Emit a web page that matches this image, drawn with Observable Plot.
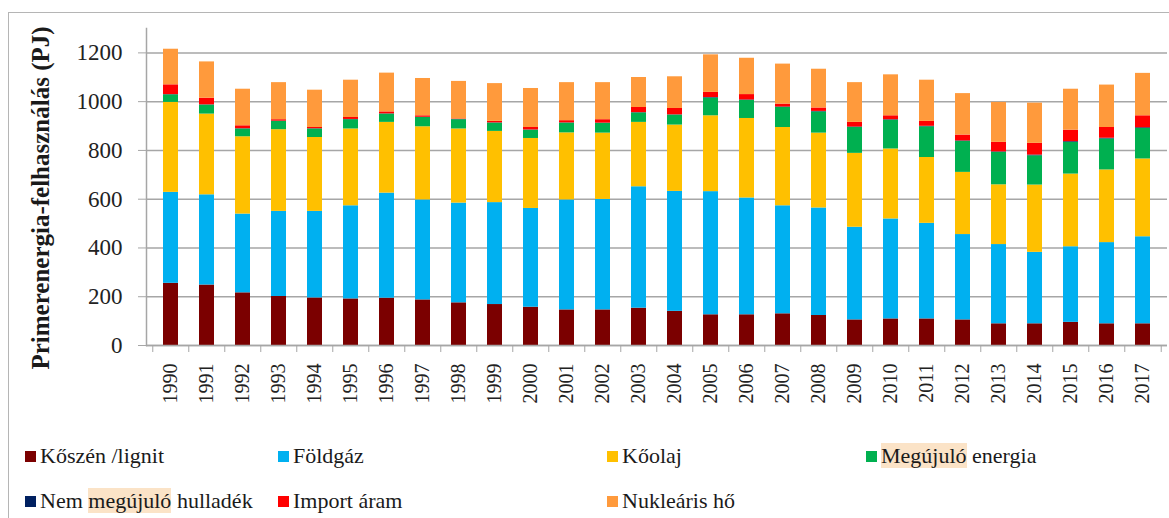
<!DOCTYPE html>
<html><head><meta charset="utf-8">
<script src="https://cdn.jsdelivr.net/npm/d3@7"></script>
<script src="https://cdn.jsdelivr.net/npm/@observablehq/plot@0.6"></script>
<style>
body{margin:0;background:#fff;font-family:'Liberation Serif',serif;}
#wrap{position:relative;width:1169px;height:518px;overflow:hidden;}
#frame{position:absolute;left:8px;top:12px;width:1164px;height:530px;border:1.5px solid #b5b5b5;box-sizing:border-box;}
#chart{position:absolute;left:0;top:0;}
.leg{position:absolute;font-family:'Liberation Serif',serif;font-size:22px;color:#1a1a1a;line-height:26px;white-space:nowrap;}
.sw{position:absolute;width:11px;height:11px;}
.hl{background:#fbe3c7;}
svg text{font-family:'Liberation Serif',serif;}
</style></head><body>
<div id="wrap"><div id="frame"></div><div id="chart"></div><div id="legend"></div></div>
<script>
const years = [1990,1991,1992,1993,1994,1995,1996,1997,1998,1999,2000,2001,2002,2003,2004,2005,2006,2007,2008,2009,2010,2011,2012,2013,2014,2015,2016,2017].map(String);
const series = ["Kőszén /lignit","Földgáz","Kőolaj","Megújuló energia","Nem megújuló hulladék","Import áram","Nukleáris hő"];
const colors = ["#7b0000","#00b0f0","#ffc000","#00b050","#002060","#ff0000","#ff9a3c"];
const coal    = [255,248,216,201,195,191,194,187,175,168,157,146,146,153,140,126,126,130,123,105,109,109,105,89,89,95,89,89];
const gas     = [373,370,323,349,355,382,431,410,409,418,405,451,453,498,492,505,479,443,441,380,410,392,350,325,293,310,333,357];
const oil     = [369,331,317,335,303,315,290,300,304,292,287,275,272,264,272,311,326,321,307,303,287,270,255,245,276,298,298,319];
const renew   = [31,37,32,34,35,38,34,38,38,34,34,40,40,39,41,73,74,82,87,106,118,126,127,133,120,130,127,125];
const waste   = [1,1,1,1,1,1,1,1,1,1,1,1,1,1,1,2,2,2,2,2,2,2,2,2,3,3,3,3];
const imports = [40,27,12,6,5,8,8,6,2,6,10,9,14,21,26,21,22,12,14,19,16,20,24,39,48,47,44,49];
const nuclear = [146,149,150,152,153,153,159,153,154,155,160,156,152,123,130,154,149,164,159,163,168,169,170,164,165,168,174,174];
const yTicks = [0,200,400,600,800,1000,1200];
const yTitle = "Primerenergia-felhasználás (PJ)";

const values = [coal,gas,oil,renew,waste,imports,nuclear];
const tidy = [];
years.forEach((yr,i)=>{ series.forEach((s,j)=>{ tidy.push({year:yr, series:s, value:values[j][i]}); }); });

const W = 1169, ML = 146, MR = 2;
const step = (W-ML-MR)/years.length;
const gray = "#a6a6a6";

const chart = Plot.plot({
  width: W, height: 430,
  marginLeft: ML, marginRight: MR, marginTop: 28, marginBottom: 85,
  x: {type:"band", domain: years, paddingInner: 0.59, paddingOuter: 0.295, label: null},
  y: {domain: [0,1300], label: null},
  color: {domain: series, range: colors},
  style: {fontFamily: "Liberation Serif", fontSize: "20px", color: "#222", background: "transparent"},
  marks: [
    Plot.gridY(yTicks, {stroke: gray, strokeOpacity: 1, strokeWidth: 1.5}),
    Plot.barY(tidy, {x: "year", y: "value", fill: "series"}),
    Plot.ruleY([0], {stroke: gray, strokeWidth: 1.5}),
    Plot.frame({anchor: "left", stroke: gray, strokeWidth: 1.5}),
    Plot.axisY(yTicks, {tickSize: 8, tickPadding: 16, fontSize: 23, stroke: gray, fill: "#222", label: null, tickFormat: d => String(d)}),
    Plot.axisX({tickSize: 0, tickPadding: 18, tickRotate: -90, fontSize: 20, fill: "#222", label: null}),
    Plot.axisX({tickSize: 7, tickFormat: () => "", dx: -step/2, stroke: gray, label: null}),
    Plot.axisX([years[years.length-1]], {tickSize: 7, tickFormat: () => "", dx: step/2, stroke: gray, label: null}),
    Plot.text([yTitle], {frameAnchor: "left", textAnchor: "middle", rotate: -90, dx: -106, dy: 11, fontWeight: "bold", fontSize: 25, fill: "#1a1a1a"})
  ]
});
document.getElementById("chart").appendChild(chart);

const legPos = [[25,457],[278,457],[607,457],[866,457],[25,502],[278,502],[607,502]];
const leg = document.getElementById("legend");
series.forEach((s,i)=>{
  const [x,y] = legPos[i];
  const sw = document.createElement("div");
  sw.className = "sw"; sw.style.left = x+"px"; sw.style.top = (y-6)+"px"; sw.style.background = colors[i];
  leg.appendChild(sw);
  const t = document.createElement("div");
  t.className = "leg"; t.style.left = (x+15)+"px"; t.style.top = (y-14)+"px";
  t.innerHTML = s.replace(/([Mm]egújuló)/, '<span class="hl">$1</span>');
  leg.appendChild(t);
});
</script>
</body></html>
